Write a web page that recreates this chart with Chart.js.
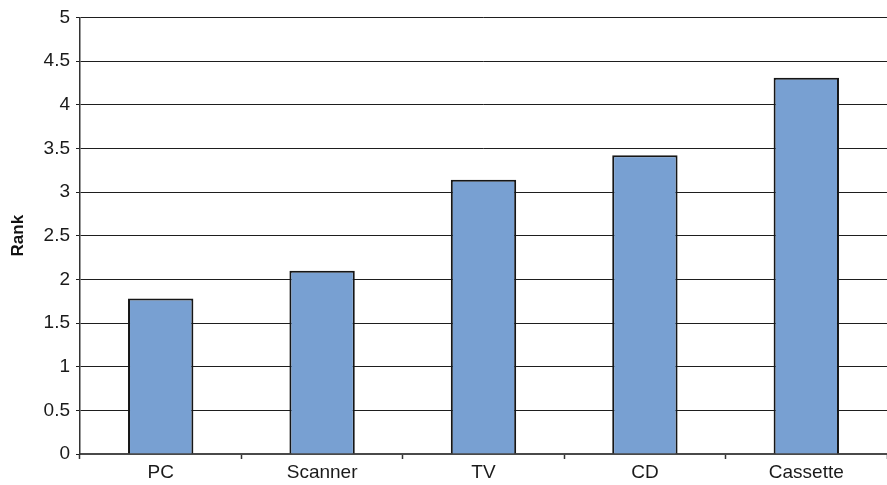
<!DOCTYPE html>
<html>
<head>
<meta charset="utf-8">
<script src="https://cdn.jsdelivr.net/npm/chart.js@4/dist/chart.umd.min.js"></script>
<style>
  html, body { margin: 0; padding: 0; background: #ffffff; overflow: hidden; }
  #wrap { width: 887px; height: 485px; position: relative; }
</style>
</head>
<body>
<div id="wrap"><canvas id="chart" width="887" height="485"></canvas></div>
<script>
// Mean rank per device
const categories = ['PC', 'Scanner', 'TV', 'CD', 'Cassette'];
const rankValues = [1.78, 2.10, 3.14, 3.42, 4.31];
const yTicks = [0, 0.5, 1, 1.5, 2, 2.5, 3, 3.5, 4, 4.5, 5];
const yTitle = 'Rank';

const FONT = '"Liberation Sans", Arial, sans-serif';

new Chart(document.getElementById('chart'), {
  type: 'bar',
  data: {
    labels: categories,
    datasets: [{
      data: rankValues,
      backgroundColor: '#78a0d2',
      borderColor: '#161616',
      borderWidth: 2,
      barPercentage: 0.405,
      categoryPercentage: 1.0
    }]
  },
  options: {
    responsive: false,
    animation: false,
    devicePixelRatio: 1,
    layout: { padding: { top: 17, right: 0, bottom: 0, left: 0 } },
    plugins: {
      legend: { display: false },
      tooltip: { enabled: false }
    },
    scales: {
      x: {
        offset: true,
        grid: {
          display: true,
          offset: true,
          drawOnChartArea: false,
          drawTicks: true,
          tickLength: 5,
          tickColor: '#333333',
          tickWidth: 1.5
        },
        border: { display: true, color: '#4a4a4a', width: 2 },
        ticks: {
          color: '#1a1a1a',
          font: { family: FONT, size: 19 },
          padding: 2,
          maxRotation: 0
        },
        afterFit: (scale) => { scale.height = 31; }
      },
      y: {
        min: 0,
        max: 5,
        afterBuildTicks: (scale) => {
          scale.ticks = yTicks.map(v => ({ value: v }));
        },
        grid: {
          color: '#1e1e1e',
          lineWidth: 1,
          drawTicks: true,
          tickLength: 4,
          tickColor: '#1e1e1e'
        },
        border: { display: true, color: '#333333', width: 1.5 },
        ticks: {
          color: '#1a1a1a',
          font: { family: FONT, size: 19 },
          padding: 6,
          callback: (v) => String(v)
        },
        title: {
          display: true,
          text: yTitle,
          color: '#111111',
          font: { family: FONT, size: 17, weight: 'bold' },
          padding: { top: 8, bottom: 0 }
        },
        afterFit: (scale) => { scale.width = 80; }
      }
    }
  }
});
</script>
</body>
</html>
